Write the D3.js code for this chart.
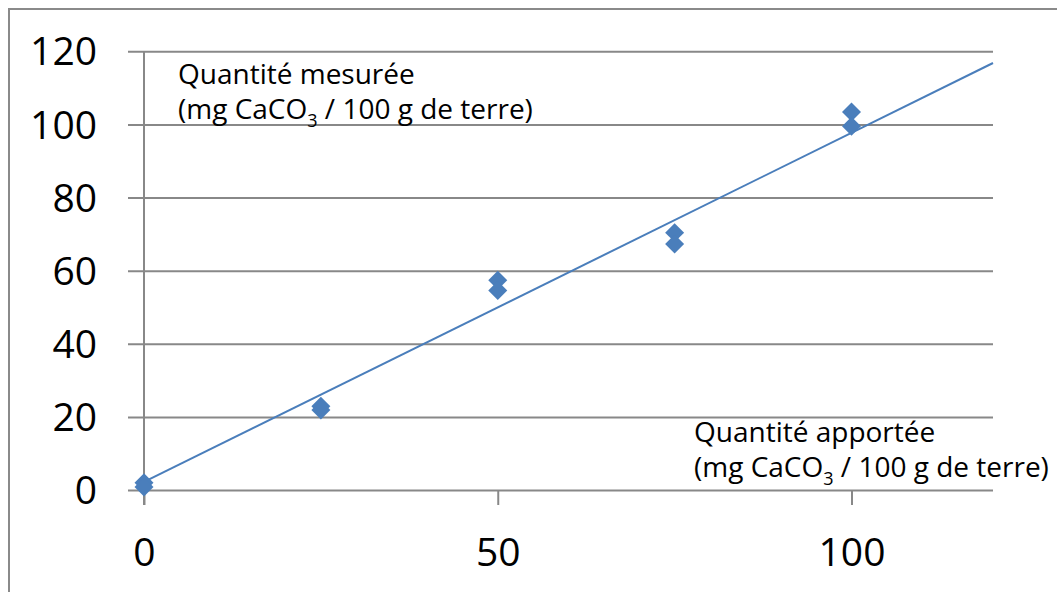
<!DOCTYPE html>
<html>
<head>
<meta charset="utf-8">
<script src="https://cdn.jsdelivr.net/npm/d3@7"></script>
<style>
  html, body { margin: 0; padding: 0; background: #fff; }
  svg { display: block; }
</style>
</head>
<body>
<svg id="chart" width="1057" height="592"></svg>
<script>
// Quantité apportée (x) vs quantité mesurée (y), two replicates per level
const apportee = [0, 0, 25, 25, 50, 50, 75, 75, 100, 100];
const mesuree  = [2.0, 0.8, 22.9, 21.9, 57.4, 54.6, 70.4, 67.3, 103.4, 99.5];

// Linear trend line: y = slope * x + intercept
const trendSlope = [0.955];
const trendIntercept = [2.2];
const trendRange = [0, 120];

const xTicks = [0, 50, 100];
const yTicks = [0, 20, 40, 60, 80, 100, 120];

const yLabelLines = ["Quantité mesurée", "(mg CaCO", "3", " / 100 g de terre)"];
const xLabelLines = ["Quantité apportée", "(mg CaCO", "3", " / 100 g de terre)"];

const svg = d3.select("#chart");
const font = "'Open Sans', 'Noto Sans', sans-serif";
const gridColor = "#888888";
const blue = "#4a7ebb";

const x = d3.scaleLinear().domain([0, 120]).range([144, 993]);
const y = d3.scaleLinear().domain([0, 120]).range([490, 51.3]);

// outer frame (top and left edges)
svg.append("path")
  .attr("d", "M9,592 V9 H1057")
  .attr("fill", "none")
  .attr("stroke", "#8a8a8a")
  .attr("stroke-width", 2);

// horizontal gridlines with outward tick stubs
const yAxis = d3.axisLeft(y)
  .tickValues(yTicks)
  .tickSize(-(993 - 144))
  .tickSizeOuter(0)
  .tickPadding(0)
  .tickFormat(d3.format("d"));

const gy = svg.append("g").attr("transform", "translate(144,0)").call(yAxis);
gy.select(".domain").remove();
gy.selectAll(".tick line")
  .attr("x1", -16)
  .attr("stroke", gridColor)
  .attr("stroke-width", 2);
gy.selectAll(".tick text")
  .attr("x", -47)
  .attr("dy", "0.35em")
  .attr("fill", "#000")
  .style("font-family", font)
  .style("font-size", "39px");

// x axis with downward ticks
const xAxis = d3.axisBottom(x)
  .tickValues(xTicks)
  .tickSize(15)
  .tickSizeOuter(0)
  .tickPadding(0)
  .tickFormat(d3.format("d"));

const gx = svg.append("g").attr("transform", "translate(0,490)").call(xAxis);
gx.select(".domain").remove();
gx.selectAll(".tick line")
  .attr("stroke", gridColor)
  .attr("stroke-width", 2);
gx.selectAll(".tick text")
  .attr("y", 62)
  .attr("dy", "0.35em")
  .attr("fill", "#000")
  .style("font-family", font)
  .style("font-size", "39px");

// vertical value axis line
svg.append("line")
  .attr("x1", x(0)).attr("x2", x(0))
  .attr("y1", y(120)).attr("y2", 505)
  .attr("stroke", gridColor)
  .attr("stroke-width", 2);

// trend line
const trendPts = trendRange.map(v => [v, trendSlope[0] * v + trendIntercept[0]]);
svg.append("path")
  .datum(trendPts)
  .attr("d", d3.line().x(d => x(d[0])).y(d => y(d[1])))
  .attr("fill", "none")
  .attr("stroke", blue)
  .attr("stroke-width", 2);

// diamond markers
const diamond = d3.symbol().type(d3.symbolSquare).size(180);
svg.append("g")
  .selectAll("path")
  .data(apportee.map((a, i) => [a, mesuree[i]]))
  .join("path")
  .attr("d", diamond)
  .attr("transform", d => `translate(${x(d[0])},${y(d[1])}) rotate(45)`)
  .attr("fill", blue);

// axis titles (two lines, with subscript)
function twoLineLabel(lines, left, baseline1, baseline2) {
  const t = svg.append("g")
    .style("font-family", font)
    .style("font-size", "28px")
    .attr("fill", "#000");
  t.append("text").attr("x", left).attr("y", baseline1).text(lines[0]);
  const l2 = t.append("text").attr("x", left).attr("y", baseline2);
  l2.append("tspan").text(lines[1]);
  l2.append("tspan").attr("dy", 8).style("font-size", "18px").text(lines[2]);
  l2.append("tspan").attr("dy", -8).text(lines[3]);
}
twoLineLabel(yLabelLines, 178, 84, 119);
twoLineLabel(xLabelLines, 694, 442, 477);
</script>
</body>
</html>
